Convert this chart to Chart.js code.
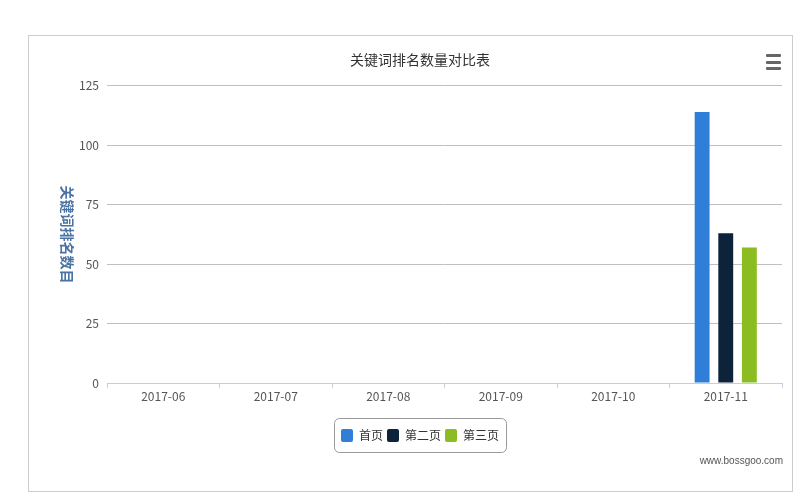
<!DOCTYPE html>
<html>
<head>
<meta charset="utf-8">
<script src="https://cdn.jsdelivr.net/npm/chart.js@4/dist/chart.umd.min.js"></script>
<style>
  body { margin: 0; width: 800px; height: 496px; background: #fff; position: relative; overflow: hidden; }
  .frame { position: absolute; left: 28px; top: 35px; width: 765px; height: 457px; border: 1px solid #ccc; box-sizing: border-box; }
  .wrap { position: absolute; left: 40px; top: 0; width: 760px; height: 496px; }
  .menu span { position: absolute; left: 766px; width: 15px; height: 3px; background: #666; border-radius: 1px; }
  .mark { position: absolute; right: 17px; top: 455px; font: 10px "Liberation Sans", sans-serif; color: #555; }
</style>
</head>
<body>
<div class="frame"></div>
<div class="wrap"><canvas id="rankChart" width="760" height="496"></canvas></div>
<div class="menu"><span style="top:54px"></span><span style="top:61px"></span><span style="top:67px"></span></div>
<div class="mark">www.bossgoo.com</div>
<script>
const months     = ["2017-06", "2017-07", "2017-08", "2017-09", "2017-10", "2017-11"];
const firstPage  = [0, 0, 0, 0, 0, 114];
const secondPage = [0, 0, 0, 0, 0, 63];
const thirdPage  = [0, 0, 0, 0, 0, 57];
const yTicks     = [0, 25, 50, 75, 100, 125];
const seriesNames = ["首页", "第二页", "第三页"];
const chartTitle = "关键词排名数量对比表";
const yTitle     = "关键词排名数目";

const FONT = "'Noto Sans CJK SC', sans-serif";

const decorations = {
  id: "decorations",
  afterDraw(chart) {
    const { ctx, chartArea, legend } = chart;
    const boxes = legend.legendHitBoxes;
    if (boxes && boxes.length) {
      const first = boxes[0];
      const last  = boxes[boxes.length - 1];
      const left  = Math.round(first.left - 7);
      const right = Math.round(last.left + last.width + 7);
      const top   = Math.round(first.top - 11);
      const bottom = Math.round(first.top + 13 + 10);
      ctx.save();
      ctx.strokeStyle = "#999";
      ctx.lineWidth = 1;
      ctx.beginPath();
      ctx.roundRect(left + 0.5, top + 0.5, right - left, bottom - top, 5);
      ctx.stroke();
      ctx.restore();
    }

    ctx.save();
    ctx.translate(27, (chartArea.top + chartArea.bottom) / 2);
    ctx.rotate(Math.PI / 2);
    ctx.textAlign = "center";
    ctx.textBaseline = "middle";
    ctx.fillStyle = "#4a72a3";
    ctx.font = "bold 14px " + FONT;
    ctx.fillText(yTitle, 0, 0);
    ctx.restore();
  },
};

const barOpts = {
  borderWidth: 0,
  categoryPercentage: 0.63,
  barPercentage: 0.63,
};

new Chart(document.getElementById("rankChart"), {
  type: "bar",
  data: {
    labels: months,
    datasets: [
      { label: seriesNames[0], data: firstPage,  backgroundColor: "#2f7ed8", ...barOpts },
      { label: seriesNames[1], data: secondPage, backgroundColor: "#0d233a", ...barOpts },
      { label: seriesNames[2], data: thirdPage,  backgroundColor: "#8bbc21", ...barOpts },
    ],
  },
  options: {
    responsive: false,
    animation: false,
    devicePixelRatio: 1,
    layout: { padding: { left: 18, right: 18, top: 0, bottom: 44 } },
    plugins: {
      title: {
        display: true,
        text: chartTitle,
        color: "#333",
        font: { family: FONT, size: 14, weight: "normal" },
        padding: { top: 51, bottom: 18 },
      },
      legend: {
        position: "bottom",
        labels: {
          font: { family: FONT, size: 12 },
          color: "#333",
          boxWidth: 12,
          boxHeight: 13,
          padding: 4,
          useBorderRadius: true,
          borderRadius: 2,
        },
      },
      tooltip: { enabled: false },
    },
    scales: {
      x: {
        grid: {
          offset: true,
          drawOnChartArea: false,
          drawTicks: true,
          tickLength: 5,
          color: "#c0d0e0",
        },
        border: { display: true, color: "#c0d0e0" },
        ticks: {
          font: { family: FONT, size: 12 },
          color: "#555",
          padding: 1,
        },
        afterFit: (scale) => { scale.height = 42; },
      },
      y: {
        min: yTicks[0],
        max: yTicks[yTicks.length - 1],
        afterBuildTicks: (scale) => { scale.ticks = yTicks.map((v) => ({ value: v })); },
        grid: {
          drawTicks: false,
          color: (c) => (c.tick && c.tick.value === 0 ? "rgba(0,0,0,0)" : "#c0c0c0"),
        },
        border: { display: false },
        ticks: {
          font: { family: FONT, size: 12 },
          color: "#555",
          padding: 8,
        },
        afterFit: (scale) => { scale.width = 49; },
      },
    },
  },
  plugins: [decorations],
});
</script>
</body>
</html>
